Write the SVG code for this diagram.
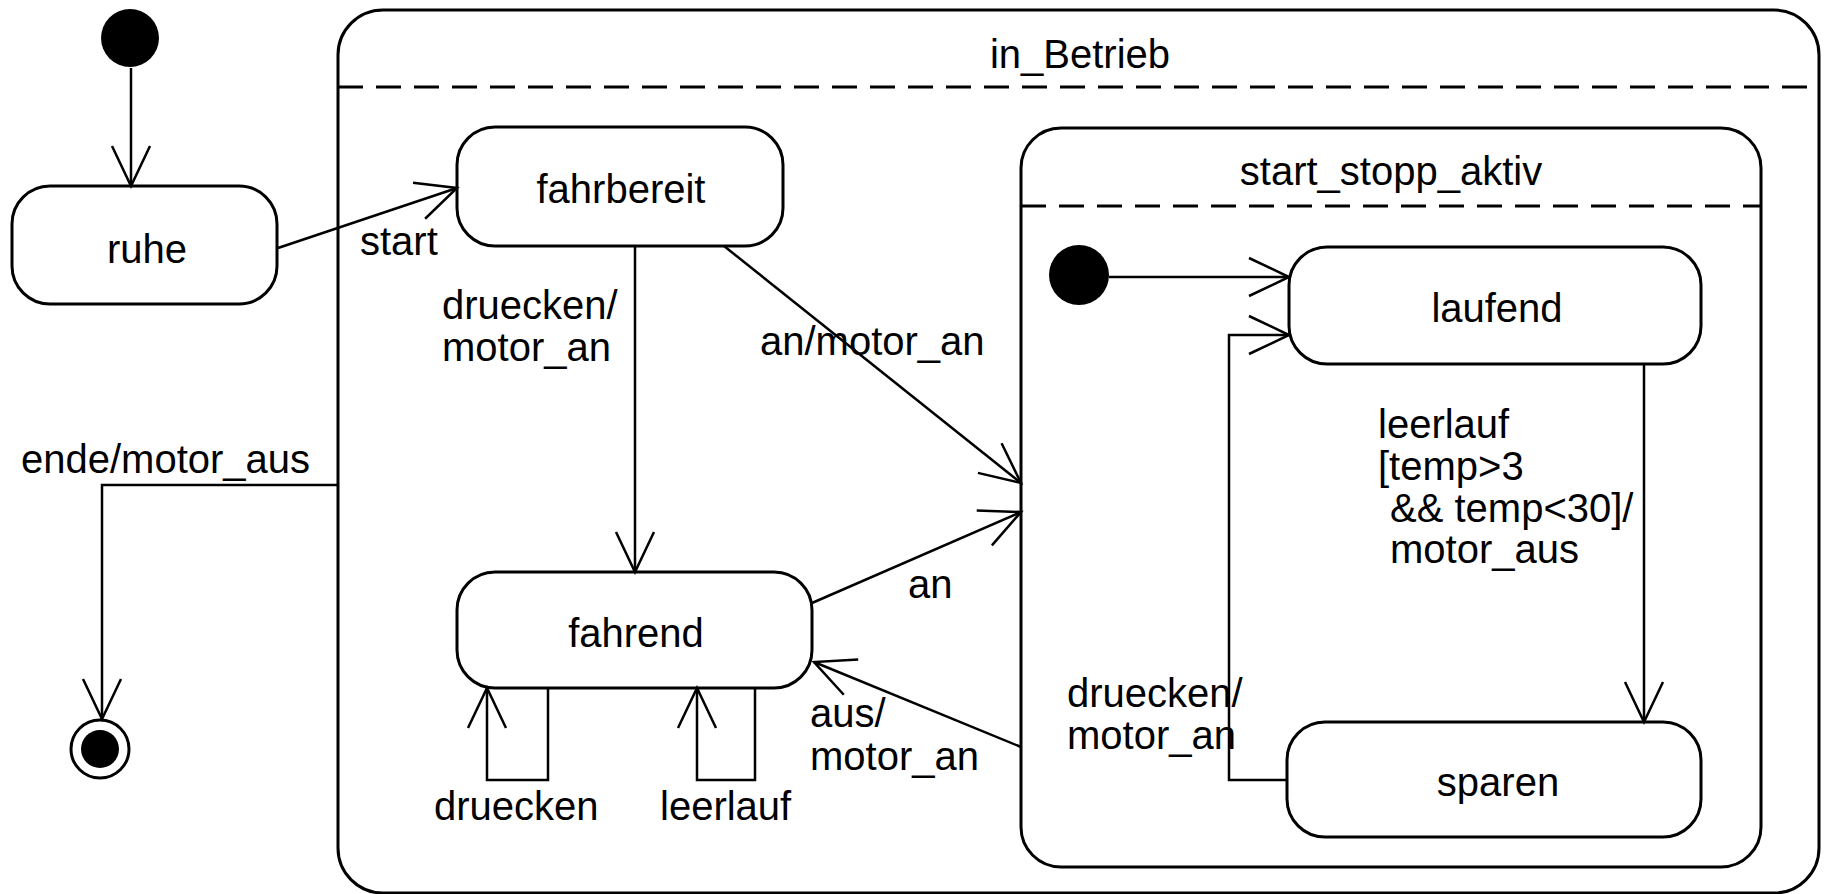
<svg xmlns="http://www.w3.org/2000/svg" width="1826" height="894" viewBox="0 0 1826 894">
<style>
.box{fill:#fff;stroke:#000;stroke-width:3}
.dash{stroke:#000;stroke-width:3;stroke-dasharray:25 13;fill:none}
.t{font-family:"Liberation Sans",Arial,sans-serif;font-size:40px;fill:#000}
.c{text-anchor:middle}
.e{fill:none;stroke:#000;stroke-width:2.5}
</style>
<defs>
<marker id="open" viewBox="-44 -24 48 48" refX="0" refY="0" markerWidth="48" markerHeight="48" markerUnits="userSpaceOnUse" orient="auto">
<path d="M-40,-19 L0,0 L-40,19" fill="none" stroke="#000" stroke-width="2.5"/>
</marker>
</defs>
<rect width="1826" height="894" fill="#fff"/>
<g id="in_Betrieb">
<rect class="box" x="338" y="10" width="1481" height="883" rx="45" ry="45"/>
<line class="dash" x1="338" y1="87" x2="1819" y2="87"/>
<text class="t c" x="1080" y="68">in_Betrieb</text>
</g>
<g id="start_stopp_aktiv">
<rect class="box" x="1021" y="128" width="740" height="739" rx="40" ry="40"/>
<line class="dash" x1="1021" y1="206" x2="1761" y2="206"/>
<text class="t c" x="1391" y="185">start_stopp_aktiv</text>
</g>
<g id="initial">
<circle cx="130" cy="38" r="29" fill="#000"/>
</g>
<g id="final">
<circle cx="100" cy="749" r="29" fill="#fff" stroke="#000" stroke-width="3"/>
<circle cx="100" cy="749" r="19" fill="#000"/>
</g>
<g id="ruhe">
<rect class="box" x="12" y="186" width="265" height="118" rx="38" ry="38"/>
<text class="t c" x="147" y="263">ruhe</text>
</g>
<g id="fahrbereit">
<rect class="box" x="457" y="127" width="326" height="119" rx="38" ry="38"/>
<text class="t c" x="621" y="203">fahrbereit</text>
</g>
<g id="fahrend">
<rect class="box" x="457" y="572" width="355" height="116" rx="38" ry="38"/>
<text class="t c" x="636" y="647">fahrend</text>
</g>
<g id="initial2">
<circle cx="1079" cy="275" r="30" fill="#000"/>
</g>
<g id="laufend">
<rect class="box" x="1289" y="247" width="412" height="117" rx="38" ry="38"/>
<text class="t c" x="1497" y="322">laufend</text>
</g>
<g id="sparen">
<rect class="box" x="1287" y="722" width="414" height="115" rx="38" ry="38"/>
<text class="t c" x="1498" y="796">sparen</text>
</g>
<g id="connectors">
<path class="e" d="M131,68 V186" marker-end="url(#open)"/>
<path class="e" d="M278,248 L457,188" marker-end="url(#open)"/>
<path class="e" d="M635,246 V572" marker-end="url(#open)"/>
<path class="e" d="M724,246 L1021,483" marker-end="url(#open)"/>
<path class="e" d="M812,603 L1021,512" marker-end="url(#open)"/>
<path class="e" d="M1021,747 L814,662" marker-end="url(#open)"/>
<path class="e" d="M548,688 V780 H487 V688" marker-end="url(#open)"/>
<path class="e" d="M755,688 V780 H697 V688" marker-end="url(#open)"/>
<path class="e" d="M338,485 H102 V719" marker-end="url(#open)"/>
<path class="e" d="M1109,277 H1289" marker-end="url(#open)"/>
<path class="e" d="M1644,364 V722" marker-end="url(#open)"/>
<path class="e" d="M1287,780 H1229 V335 H1289" marker-end="url(#open)"/>
</g>
<g id="labels">
<text class="t" x="360" y="255">start</text>
<text class="t" x="442" y="319">druecken/</text>
<text class="t" x="442" y="361">motor_an</text>
<text class="t" x="760" y="355">an/motor_an</text>
<text class="t" x="21" y="473">ende/motor_aus</text>
<text class="t" x="908" y="598">an</text>
<text class="t" x="810" y="727">aus/</text>
<text class="t" x="810" y="770">motor_an</text>
<text class="t" x="434" y="820">druecken</text>
<text class="t" x="660" y="820">leerlauf</text>
<text class="t" x="1378" y="438">leerlauf</text>
<text class="t" x="1378" y="480">[temp&gt;3</text>
<text class="t" x="1390" y="522">&amp;&amp; temp&lt;30]/</text>
<text class="t" x="1390" y="563">motor_aus</text>
<text class="t" x="1067" y="707">druecken/</text>
<text class="t" x="1067" y="749">motor_an</text>
</g>
</svg>
